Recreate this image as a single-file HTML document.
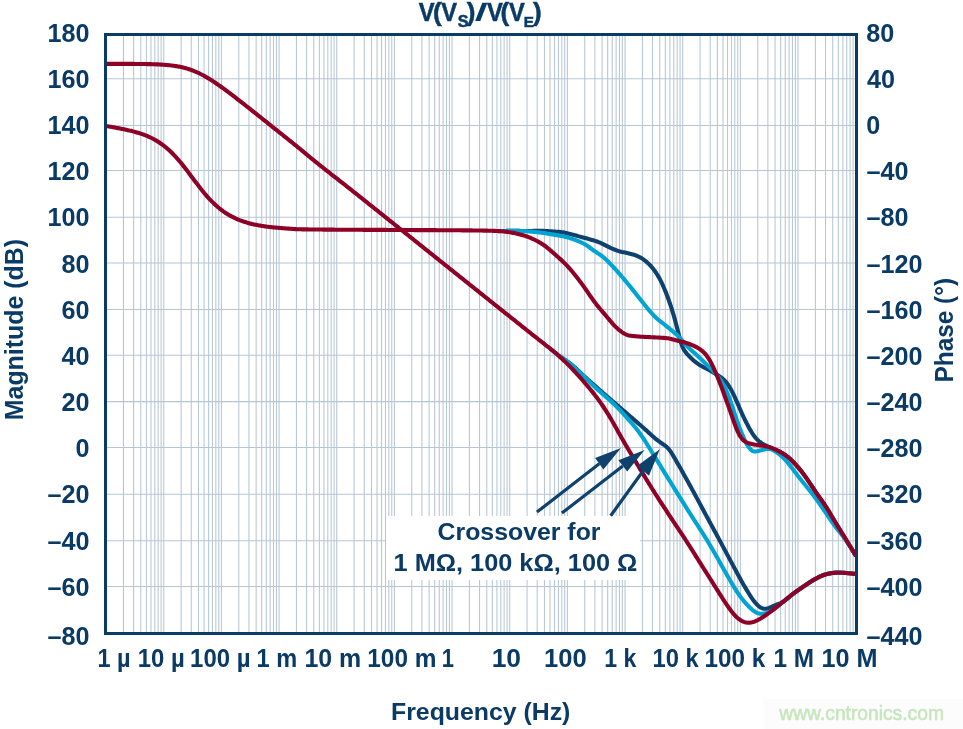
<!DOCTYPE html>
<html><head><meta charset="utf-8"><style>html,body{margin:0;padding:0;background:#fff;overflow:hidden}svg{display:block;will-change:transform}</style></head>
<body><svg width="963" height="729" viewBox="0 0 963 729">
<rect x="0" y="0" width="963" height="729" fill="#fff"/>
<rect x="763" y="699" width="200" height="30" fill="#fcfcfc"/>
<g stroke="#b6c6d4" stroke-width="1.05"><line x1="106.10" y1="34" x2="106.10" y2="634"/><line x1="123.46" y1="34" x2="123.46" y2="634"/><line x1="133.61" y1="34" x2="133.61" y2="634"/><line x1="140.81" y1="34" x2="140.81" y2="634"/><line x1="146.40" y1="34" x2="146.40" y2="634"/><line x1="150.97" y1="34" x2="150.97" y2="634"/><line x1="154.83" y1="34" x2="154.83" y2="634"/><line x1="158.17" y1="34" x2="158.17" y2="634"/><line x1="161.12" y1="34" x2="161.12" y2="634"/><line x1="163.76" y1="34" x2="163.76" y2="634"/><line x1="181.12" y1="34" x2="181.12" y2="634"/><line x1="191.27" y1="34" x2="191.27" y2="634"/><line x1="198.47" y1="34" x2="198.47" y2="634"/><line x1="204.06" y1="34" x2="204.06" y2="634"/><line x1="208.63" y1="34" x2="208.63" y2="634"/><line x1="212.49" y1="34" x2="212.49" y2="634"/><line x1="215.83" y1="34" x2="215.83" y2="634"/><line x1="218.78" y1="34" x2="218.78" y2="634"/><line x1="221.42" y1="34" x2="221.42" y2="634"/><line x1="238.78" y1="34" x2="238.78" y2="634"/><line x1="248.93" y1="34" x2="248.93" y2="634"/><line x1="256.13" y1="34" x2="256.13" y2="634"/><line x1="261.72" y1="34" x2="261.72" y2="634"/><line x1="266.29" y1="34" x2="266.29" y2="634"/><line x1="270.15" y1="34" x2="270.15" y2="634"/><line x1="273.49" y1="34" x2="273.49" y2="634"/><line x1="276.44" y1="34" x2="276.44" y2="634"/><line x1="279.08" y1="34" x2="279.08" y2="634"/><line x1="296.44" y1="34" x2="296.44" y2="634"/><line x1="306.59" y1="34" x2="306.59" y2="634"/><line x1="313.79" y1="34" x2="313.79" y2="634"/><line x1="319.38" y1="34" x2="319.38" y2="634"/><line x1="323.95" y1="34" x2="323.95" y2="634"/><line x1="327.81" y1="34" x2="327.81" y2="634"/><line x1="331.15" y1="34" x2="331.15" y2="634"/><line x1="334.10" y1="34" x2="334.10" y2="634"/><line x1="336.74" y1="34" x2="336.74" y2="634"/><line x1="354.10" y1="34" x2="354.10" y2="634"/><line x1="364.25" y1="34" x2="364.25" y2="634"/><line x1="371.45" y1="34" x2="371.45" y2="634"/><line x1="377.04" y1="34" x2="377.04" y2="634"/><line x1="381.61" y1="34" x2="381.61" y2="634"/><line x1="385.47" y1="34" x2="385.47" y2="634"/><line x1="388.81" y1="34" x2="388.81" y2="634"/><line x1="391.76" y1="34" x2="391.76" y2="634"/><line x1="394.40" y1="34" x2="394.40" y2="634"/><line x1="411.76" y1="34" x2="411.76" y2="634"/><line x1="421.91" y1="34" x2="421.91" y2="634"/><line x1="429.11" y1="34" x2="429.11" y2="634"/><line x1="434.70" y1="34" x2="434.70" y2="634"/><line x1="439.27" y1="34" x2="439.27" y2="634"/><line x1="443.13" y1="34" x2="443.13" y2="634"/><line x1="446.47" y1="34" x2="446.47" y2="634"/><line x1="449.42" y1="34" x2="449.42" y2="634"/><line x1="452.06" y1="34" x2="452.06" y2="634"/><line x1="469.42" y1="34" x2="469.42" y2="634"/><line x1="479.57" y1="34" x2="479.57" y2="634"/><line x1="486.77" y1="34" x2="486.77" y2="634"/><line x1="492.36" y1="34" x2="492.36" y2="634"/><line x1="496.93" y1="34" x2="496.93" y2="634"/><line x1="500.79" y1="34" x2="500.79" y2="634"/><line x1="504.13" y1="34" x2="504.13" y2="634"/><line x1="507.08" y1="34" x2="507.08" y2="634"/><line x1="509.72" y1="34" x2="509.72" y2="634"/><line x1="527.08" y1="34" x2="527.08" y2="634"/><line x1="537.23" y1="34" x2="537.23" y2="634"/><line x1="544.43" y1="34" x2="544.43" y2="634"/><line x1="550.02" y1="34" x2="550.02" y2="634"/><line x1="554.59" y1="34" x2="554.59" y2="634"/><line x1="558.45" y1="34" x2="558.45" y2="634"/><line x1="561.79" y1="34" x2="561.79" y2="634"/><line x1="564.74" y1="34" x2="564.74" y2="634"/><line x1="567.38" y1="34" x2="567.38" y2="634"/><line x1="584.74" y1="34" x2="584.74" y2="634"/><line x1="594.89" y1="34" x2="594.89" y2="634"/><line x1="602.09" y1="34" x2="602.09" y2="634"/><line x1="607.68" y1="34" x2="607.68" y2="634"/><line x1="612.25" y1="34" x2="612.25" y2="634"/><line x1="616.11" y1="34" x2="616.11" y2="634"/><line x1="619.45" y1="34" x2="619.45" y2="634"/><line x1="622.40" y1="34" x2="622.40" y2="634"/><line x1="625.04" y1="34" x2="625.04" y2="634"/><line x1="642.40" y1="34" x2="642.40" y2="634"/><line x1="652.55" y1="34" x2="652.55" y2="634"/><line x1="659.75" y1="34" x2="659.75" y2="634"/><line x1="665.34" y1="34" x2="665.34" y2="634"/><line x1="669.91" y1="34" x2="669.91" y2="634"/><line x1="673.77" y1="34" x2="673.77" y2="634"/><line x1="677.11" y1="34" x2="677.11" y2="634"/><line x1="680.06" y1="34" x2="680.06" y2="634"/><line x1="682.70" y1="34" x2="682.70" y2="634"/><line x1="700.06" y1="34" x2="700.06" y2="634"/><line x1="710.21" y1="34" x2="710.21" y2="634"/><line x1="717.41" y1="34" x2="717.41" y2="634"/><line x1="723.00" y1="34" x2="723.00" y2="634"/><line x1="727.57" y1="34" x2="727.57" y2="634"/><line x1="731.43" y1="34" x2="731.43" y2="634"/><line x1="734.77" y1="34" x2="734.77" y2="634"/><line x1="737.72" y1="34" x2="737.72" y2="634"/><line x1="740.36" y1="34" x2="740.36" y2="634"/><line x1="757.72" y1="34" x2="757.72" y2="634"/><line x1="767.87" y1="34" x2="767.87" y2="634"/><line x1="775.07" y1="34" x2="775.07" y2="634"/><line x1="780.66" y1="34" x2="780.66" y2="634"/><line x1="785.23" y1="34" x2="785.23" y2="634"/><line x1="789.09" y1="34" x2="789.09" y2="634"/><line x1="792.43" y1="34" x2="792.43" y2="634"/><line x1="795.38" y1="34" x2="795.38" y2="634"/><line x1="798.02" y1="34" x2="798.02" y2="634"/><line x1="815.38" y1="34" x2="815.38" y2="634"/><line x1="825.53" y1="34" x2="825.53" y2="634"/><line x1="832.73" y1="34" x2="832.73" y2="634"/><line x1="838.32" y1="34" x2="838.32" y2="634"/><line x1="842.89" y1="34" x2="842.89" y2="634"/><line x1="846.75" y1="34" x2="846.75" y2="634"/><line x1="850.09" y1="34" x2="850.09" y2="634"/><line x1="853.04" y1="34" x2="853.04" y2="634"/><line x1="105" y1="586.45" x2="857" y2="586.45"/><line x1="105" y1="540.75" x2="857" y2="540.75"/><line x1="105" y1="494.30" x2="857" y2="494.30"/><line x1="105" y1="447.40" x2="857" y2="447.40"/><line x1="105" y1="401.60" x2="857" y2="401.60"/><line x1="105" y1="355.30" x2="857" y2="355.30"/><line x1="105" y1="309.40" x2="857" y2="309.40"/><line x1="105" y1="263.00" x2="857" y2="263.00"/><line x1="105" y1="217.25" x2="857" y2="217.25"/><line x1="105" y1="170.40" x2="857" y2="170.40"/><line x1="105" y1="125.45" x2="857" y2="125.45"/><line x1="105" y1="78.70" x2="857" y2="78.70"/></g>
<rect x="386" y="516" width="254" height="64" fill="#fff"/>
<path d="M560.00,356.43 L561.00,357.14 L562.00,357.84 L563.00,358.52 L564.00,359.19 L565.00,359.86 L566.00,360.53 L567.00,361.22 L568.00,361.92 L569.00,362.65 L570.00,363.41 L571.00,364.20 L572.00,365.01 L573.00,365.86 L574.00,366.73 L575.00,367.63 L576.00,368.54 L577.00,369.47 L578.00,370.41 L579.00,371.35 L580.00,372.30 L581.00,373.25 L582.00,374.19 L583.00,375.13 L584.00,376.05 L585.00,376.97 L586.00,377.88 L587.00,378.78 L588.00,379.68 L589.00,380.58 L590.00,381.47 L591.00,382.36 L592.00,383.25 L593.00,384.13 L594.00,385.02 L595.00,385.90 L596.00,386.78 L597.00,387.66 L598.00,388.54 L599.00,389.42 L600.00,390.30 L601.00,391.17 L602.00,392.04 L603.00,392.92 L604.00,393.79 L605.00,394.65 L606.00,395.52 L607.00,396.39 L608.00,397.25 L609.00,398.12 L610.00,398.98 L611.00,399.85 L612.00,400.71 L613.00,401.57 L614.00,402.44 L615.00,403.30 L616.00,404.16 L617.00,405.02 L618.00,405.88 L619.00,406.74 L620.00,407.60 L621.00,408.46 L622.00,409.32 L623.00,410.18 L624.00,411.04 L625.00,411.90 L626.00,412.76 L627.00,413.62 L628.00,414.48 L629.00,415.34 L630.00,416.20 L631.00,417.06 L632.00,417.92 L633.00,418.78 L634.00,419.64 L635.00,420.50 L636.00,421.36 L637.00,422.23 L638.00,423.09 L639.00,423.95 L640.00,424.82 L641.00,425.69 L642.00,426.57 L643.00,427.45 L644.00,428.34 L645.00,429.23 L646.00,430.13 L647.00,431.04 L648.00,431.96 L649.00,432.88 L650.00,433.80 L651.00,434.71 L652.00,435.62 L653.00,436.51 L654.00,437.38 L655.00,438.23 L656.00,439.07 L657.00,439.88 L658.00,440.67 L659.00,441.43 L660.00,442.17 L661.00,442.88 L662.00,443.56 L663.00,444.23 L664.00,444.90 L665.00,445.61 L666.00,446.38 L667.00,447.26 L668.00,448.26 L669.00,449.41 L670.00,450.71 L671.00,452.16 L672.00,453.73 L673.00,455.39 L674.00,457.11 L675.00,458.85 L676.00,460.61 L677.00,462.36 L678.00,464.11 L679.00,465.85 L680.00,467.60 L681.00,469.35 L682.00,471.11 L683.00,472.88 L684.00,474.66 L685.00,476.45 L686.00,478.24 L687.00,480.04 L688.00,481.85 L689.00,483.67 L690.00,485.49 L691.00,487.32 L692.00,489.15 L693.00,490.99 L694.00,492.83 L695.00,494.68 L696.00,496.53 L697.00,498.38 L698.00,500.24 L699.00,502.10 L700.00,503.96 L701.00,505.82 L702.00,507.69 L703.00,509.55 L704.00,511.41 L705.00,513.28 L706.00,515.13 L707.00,516.99 L708.00,518.84 L709.00,520.69 L710.00,522.53 L711.00,524.38 L712.00,526.22 L713.00,528.06 L714.00,529.90 L715.00,531.75 L716.00,533.59 L717.00,535.44 L718.00,537.29 L719.00,539.14 L720.00,541.01 L721.00,542.87 L722.00,544.74 L723.00,546.62 L724.00,548.49 L725.00,550.38 L726.00,552.26 L727.00,554.14 L728.00,556.02 L729.00,557.89 L730.00,559.76 L731.00,561.63 L732.00,563.50 L733.00,565.37 L734.00,567.24 L735.00,569.10 L736.00,570.97 L737.00,572.83 L738.00,574.68 L739.00,576.52 L740.00,578.34 L741.00,580.15 L742.00,581.93 L743.00,583.68 L744.00,585.42 L745.00,587.14 L746.00,588.84 L747.00,590.52 L748.00,592.17 L749.00,593.80 L750.00,595.39 L751.00,596.92 L752.00,598.40 L753.00,599.80 L754.00,601.12 L755.00,602.36 L756.00,603.52 L757.00,604.58 L758.00,605.55 L759.00,606.40 L760.00,607.15 L761.00,607.76 L762.00,608.24 L763.00,608.57 L764.00,608.74 L765.00,608.78 L766.00,608.68 L767.00,608.48 L768.00,608.21 L769.00,607.88 L770.00,607.49 L771.00,607.08 L772.00,606.63 L773.00,606.17 L774.00,605.71 L775.00,605.27 L776.00,604.84 L777.00,604.44 L778.00,604.06 L779.00,603.69 L780.00,603.31 L781.00,602.90 L782.00,602.43 L783.00,601.89 L784.00,601.27 L785.00,600.58 L786.00,599.82 L787.00,599.01 L788.00,598.16 L789.00,597.29 L790.00,596.42 L791.00,595.57 L792.00,594.74 L793.00,593.93 L794.00,593.16 L795.00,592.40 L796.00,591.67 L797.00,590.95 L798.00,590.25 L799.00,589.55 L800.00,588.86 L801.00,588.17 L802.00,587.49 L803.00,586.81 L804.00,586.13 L805.00,585.45 L806.00,584.77 L807.00,584.10 L808.00,583.43 L809.00,582.76 L810.00,582.11 L811.00,581.47 L812.00,580.85 L813.00,580.24 L814.00,579.66 L815.00,579.09 L816.00,578.53 L817.00,577.99 L818.00,577.46 L819.00,576.94 L820.00,576.45 L821.00,575.98 L822.00,575.55 L823.00,575.15 L824.00,574.78 L825.00,574.46 L826.00,574.18 L827.00,573.92 L828.00,573.69 L829.00,573.48 L830.00,573.29 L831.00,573.12 L832.00,572.97 L833.00,572.84 L834.00,572.73 L835.00,572.65 L836.00,572.60 L837.00,572.57 L838.00,572.57 L839.00,572.58 L840.00,572.61 L841.00,572.65 L842.00,572.70 L843.00,572.76 L844.00,572.83 L845.00,572.90 L846.00,572.97 L847.00,573.05 L848.00,573.13 L849.00,573.22 L850.00,573.31 L851.00,573.41 L852.00,573.52 L853.00,573.64 L854.00,573.75 L855.00,573.88 L856.00,574.00" fill="none" stroke="#0f416e" stroke-width="4.10" stroke-linecap="butt" stroke-linejoin="round"/><path d="M500.00,231.08 L501.00,231.07 L502.00,231.05 L503.00,231.03 L504.00,231.00 L505.00,230.97 L506.00,230.93 L507.00,230.89 L508.00,230.86 L509.00,230.82 L510.00,230.79 L511.00,230.77 L512.00,230.75 L513.00,230.74 L514.00,230.74 L515.00,230.76 L516.00,230.79 L517.00,230.82 L518.00,230.86 L519.00,230.91 L520.00,230.95 L521.00,230.99 L522.00,231.03 L523.00,231.05 L524.00,231.06 L525.00,231.07 L526.00,231.07 L527.00,231.06 L528.00,231.04 L529.00,231.02 L530.00,231.00 L531.00,230.98 L532.00,230.95 L533.00,230.92 L534.00,230.90 L535.00,230.88 L536.00,230.86 L537.00,230.84 L538.00,230.83 L539.00,230.82 L540.00,230.83 L541.00,230.84 L542.00,230.85 L543.00,230.88 L544.00,230.91 L545.00,230.95 L546.00,231.00 L547.00,231.06 L548.00,231.12 L549.00,231.18 L550.00,231.25 L551.00,231.32 L552.00,231.39 L553.00,231.46 L554.00,231.53 L555.00,231.60 L556.00,231.67 L557.00,231.74 L558.00,231.82 L559.00,231.90 L560.00,231.99 L561.00,232.09 L562.00,232.21 L563.00,232.35 L564.00,232.51 L565.00,232.70 L566.00,232.92 L567.00,233.17 L568.00,233.43 L569.00,233.70 L570.00,233.97 L571.00,234.25 L572.00,234.52 L573.00,234.79 L574.00,235.05 L575.00,235.32 L576.00,235.58 L577.00,235.84 L578.00,236.11 L579.00,236.37 L580.00,236.64 L581.00,236.91 L582.00,237.18 L583.00,237.46 L584.00,237.73 L585.00,238.01 L586.00,238.29 L587.00,238.56 L588.00,238.84 L589.00,239.12 L590.00,239.40 L591.00,239.68 L592.00,239.97 L593.00,240.26 L594.00,240.56 L595.00,240.88 L596.00,241.21 L597.00,241.55 L598.00,241.91 L599.00,242.30 L600.00,242.72 L601.00,243.16 L602.00,243.64 L603.00,244.13 L604.00,244.65 L605.00,245.17 L606.00,245.69 L607.00,246.20 L608.00,246.69 L609.00,247.18 L610.00,247.65 L611.00,248.10 L612.00,248.54 L613.00,248.97 L614.00,249.38 L615.00,249.77 L616.00,250.15 L617.00,250.51 L618.00,250.84 L619.00,251.16 L620.00,251.44 L621.00,251.70 L622.00,251.94 L623.00,252.15 L624.00,252.36 L625.00,252.56 L626.00,252.75 L627.00,252.96 L628.00,253.17 L629.00,253.40 L630.00,253.64 L631.00,253.90 L632.00,254.17 L633.00,254.47 L634.00,254.78 L635.00,255.12 L636.00,255.49 L637.00,255.89 L638.00,256.32 L639.00,256.79 L640.00,257.30 L641.00,257.85 L642.00,258.45 L643.00,259.10 L644.00,259.81 L645.00,260.57 L646.00,261.38 L647.00,262.25 L648.00,263.17 L649.00,264.14 L650.00,265.17 L651.00,266.26 L652.00,267.42 L653.00,268.63 L654.00,269.92 L655.00,271.28 L656.00,272.72 L657.00,274.25 L658.00,275.87 L659.00,277.60 L660.00,279.44 L661.00,281.40 L662.00,283.47 L663.00,285.66 L664.00,287.96 L665.00,290.35 L666.00,292.84 L667.00,295.42 L668.00,298.08 L669.00,300.84 L670.00,303.71 L671.00,306.69 L672.00,309.79 L673.00,313.02 L674.00,316.40 L675.00,319.94 L676.00,323.67 L677.00,327.55 L678.00,331.55 L679.00,335.54 L680.00,339.32 L681.00,342.71 L682.00,345.59 L683.00,347.94 L684.00,349.82 L685.00,351.35 L686.00,352.66 L687.00,353.84 L688.00,354.95 L689.00,356.02 L690.00,357.06 L691.00,358.06 L692.00,359.02 L693.00,359.93 L694.00,360.81 L695.00,361.63 L696.00,362.42 L697.00,363.16 L698.00,363.87 L699.00,364.54 L700.00,365.17 L701.00,365.77 L702.00,366.34 L703.00,366.89 L704.00,367.41 L705.00,367.92 L706.00,368.43 L707.00,368.95 L708.00,369.48 L709.00,370.02 L710.00,370.59 L711.00,371.16 L712.00,371.75 L713.00,372.34 L714.00,372.93 L715.00,373.52 L716.00,374.11 L717.00,374.70 L718.00,375.30 L719.00,375.93 L720.00,376.59 L721.00,377.32 L722.00,378.11 L723.00,378.98 L724.00,379.94 L725.00,380.99 L726.00,382.14 L727.00,383.39 L728.00,384.75 L729.00,386.23 L730.00,387.84 L731.00,389.57 L732.00,391.42 L733.00,393.38 L734.00,395.43 L735.00,397.58 L736.00,399.79 L737.00,402.08 L738.00,404.40 L739.00,406.75 L740.00,409.09 L741.00,411.40 L742.00,413.65 L743.00,415.84 L744.00,417.96 L745.00,420.01 L746.00,422.00 L747.00,423.93 L748.00,425.81 L749.00,427.65 L750.00,429.42 L751.00,431.15 L752.00,432.79 L753.00,434.35 L754.00,435.79 L755.00,437.11 L756.00,438.31 L757.00,439.39 L758.00,440.36 L759.00,441.24 L760.00,442.03 L761.00,442.76 L762.00,443.43 L763.00,444.04 L764.00,444.61 L765.00,445.14 L766.00,445.63 L767.00,446.10 L768.00,446.55 L769.00,446.97 L770.00,447.39 L771.00,447.79 L772.00,448.20 L773.00,448.61 L774.00,449.03 L775.00,449.46 L776.00,449.91 L777.00,450.37 L778.00,450.86 L779.00,451.36 L780.00,451.87 L781.00,452.41 L782.00,452.98 L783.00,453.57 L784.00,454.19 L785.00,454.85 L786.00,455.55 L787.00,456.29 L788.00,457.08 L789.00,457.92 L790.00,458.80 L791.00,459.73 L792.00,460.70 L793.00,461.70 L794.00,462.74 L795.00,463.80 L796.00,464.89 L797.00,466.01 L798.00,467.16 L799.00,468.34 L800.00,469.56 L801.00,470.81 L802.00,472.09 L803.00,473.40 L804.00,474.74 L805.00,476.10 L806.00,477.49 L807.00,478.91 L808.00,480.35 L809.00,481.81 L810.00,483.31 L811.00,484.83 L812.00,486.37 L813.00,487.92 L814.00,489.47 L815.00,490.99 L816.00,492.49 L817.00,493.96 L818.00,495.39 L819.00,496.80 L820.00,498.18 L821.00,499.55 L822.00,500.94 L823.00,502.35 L824.00,503.79 L825.00,505.28 L826.00,506.82 L827.00,508.40 L828.00,510.02 L829.00,511.67 L830.00,513.35 L831.00,515.03 L832.00,516.72 L833.00,518.41 L834.00,520.08 L835.00,521.75 L836.00,523.40 L837.00,525.04 L838.00,526.67 L839.00,528.29 L840.00,529.91 L841.00,531.53 L842.00,533.15 L843.00,534.77 L844.00,536.39 L845.00,538.01 L846.00,539.64 L847.00,541.27 L848.00,542.90 L849.00,544.53 L850.00,546.16 L851.00,547.80 L852.00,549.44 L853.00,551.08 L854.00,552.72 L855.00,554.36 L856.00,556.00" fill="none" stroke="#0f416e" stroke-width="4.10" stroke-linecap="butt" stroke-linejoin="round"/><path d="M550.00,348.59 L551.00,349.40 L552.00,350.20 L553.00,351.00 L554.00,351.79 L555.00,352.58 L556.00,353.36 L557.00,354.13 L558.00,354.89 L559.00,355.64 L560.00,356.38 L561.00,357.11 L562.00,357.83 L563.00,358.55 L564.00,359.26 L565.00,359.98 L566.00,360.70 L567.00,361.43 L568.00,362.18 L569.00,362.94 L570.00,363.73 L571.00,364.53 L572.00,365.36 L573.00,366.22 L574.00,367.09 L575.00,367.99 L576.00,368.90 L577.00,369.83 L578.00,370.76 L579.00,371.71 L580.00,372.67 L581.00,373.63 L582.00,374.60 L583.00,375.56 L584.00,376.53 L585.00,377.50 L586.00,378.47 L587.00,379.44 L588.00,380.40 L589.00,381.37 L590.00,382.34 L591.00,383.31 L592.00,384.27 L593.00,385.22 L594.00,386.17 L595.00,387.12 L596.00,388.05 L597.00,388.97 L598.00,389.88 L599.00,390.78 L600.00,391.66 L601.00,392.54 L602.00,393.40 L603.00,394.27 L604.00,395.12 L605.00,395.98 L606.00,396.84 L607.00,397.71 L608.00,398.58 L609.00,399.47 L610.00,400.37 L611.00,401.28 L612.00,402.21 L613.00,403.16 L614.00,404.12 L615.00,405.09 L616.00,406.08 L617.00,407.09 L618.00,408.11 L619.00,409.14 L620.00,410.18 L621.00,411.24 L622.00,412.30 L623.00,413.38 L624.00,414.46 L625.00,415.56 L626.00,416.66 L627.00,417.77 L628.00,418.89 L629.00,420.01 L630.00,421.15 L631.00,422.30 L632.00,423.47 L633.00,424.65 L634.00,425.84 L635.00,427.06 L636.00,428.30 L637.00,429.57 L638.00,430.87 L639.00,432.20 L640.00,433.56 L641.00,434.97 L642.00,436.41 L643.00,437.89 L644.00,439.40 L645.00,440.95 L646.00,442.52 L647.00,444.12 L648.00,445.73 L649.00,447.34 L650.00,448.97 L651.00,450.59 L652.00,452.21 L653.00,453.83 L654.00,455.45 L655.00,457.07 L656.00,458.69 L657.00,460.31 L658.00,461.93 L659.00,463.55 L660.00,465.17 L661.00,466.80 L662.00,468.43 L663.00,470.06 L664.00,471.68 L665.00,473.31 L666.00,474.94 L667.00,476.57 L668.00,478.19 L669.00,479.81 L670.00,481.43 L671.00,483.04 L672.00,484.66 L673.00,486.27 L674.00,487.88 L675.00,489.48 L676.00,491.09 L677.00,492.70 L678.00,494.30 L679.00,495.91 L680.00,497.51 L681.00,499.12 L682.00,500.72 L683.00,502.33 L684.00,503.93 L685.00,505.53 L686.00,507.13 L687.00,508.73 L688.00,510.32 L689.00,511.91 L690.00,513.50 L691.00,515.08 L692.00,516.65 L693.00,518.22 L694.00,519.78 L695.00,521.33 L696.00,522.88 L697.00,524.42 L698.00,525.97 L699.00,527.51 L700.00,529.06 L701.00,530.61 L702.00,532.17 L703.00,533.73 L704.00,535.32 L705.00,536.91 L706.00,538.52 L707.00,540.15 L708.00,541.80 L709.00,543.47 L710.00,545.16 L711.00,546.86 L712.00,548.57 L713.00,550.31 L714.00,552.05 L715.00,553.80 L716.00,555.56 L717.00,557.32 L718.00,559.09 L719.00,560.86 L720.00,562.63 L721.00,564.40 L722.00,566.18 L723.00,567.95 L724.00,569.72 L725.00,571.50 L726.00,573.26 L727.00,575.03 L728.00,576.78 L729.00,578.52 L730.00,580.25 L731.00,581.97 L732.00,583.66 L733.00,585.34 L734.00,586.98 L735.00,588.61 L736.00,590.19 L737.00,591.74 L738.00,593.25 L739.00,594.72 L740.00,596.13 L741.00,597.49 L742.00,598.80 L743.00,600.06 L744.00,601.27 L745.00,602.44 L746.00,603.57 L747.00,604.65 L748.00,605.70 L749.00,606.71 L750.00,607.68 L751.00,608.61 L752.00,609.49 L753.00,610.30 L754.00,611.05 L755.00,611.73 L756.00,612.31 L757.00,612.80 L758.00,613.18 L759.00,613.46 L760.00,613.64 L761.00,613.72 L762.00,613.72 L763.00,613.64 L764.00,613.49 L765.00,613.28 L766.00,613.02 L767.00,612.71 L768.00,612.36 L769.00,611.96 L770.00,611.50 L771.00,611.00 L772.00,610.45 L773.00,609.84 L774.00,609.18 L775.00,608.47 L776.00,607.72 L777.00,606.94 L778.00,606.13 L779.00,605.30 L780.00,604.47 L781.00,603.62 L782.00,602.78 L783.00,601.94 L784.00,601.11 L785.00,600.28 L786.00,599.46 L787.00,598.64 L788.00,597.83 L789.00,597.03 L790.00,596.24 L791.00,595.46 L792.00,594.69 L793.00,593.93 L794.00,593.18 L795.00,592.44 L796.00,591.71 L797.00,590.99 L798.00,590.28 L799.00,589.58 L800.00,588.88 L801.00,588.19 L802.00,587.50 L803.00,586.82 L804.00,586.14 L805.00,585.46 L806.00,584.79 L807.00,584.12 L808.00,583.46 L809.00,582.81 L810.00,582.17 L811.00,581.54 L812.00,580.92 L813.00,580.32 L814.00,579.73 L815.00,579.16 L816.00,578.61 L817.00,578.07 L818.00,577.55 L819.00,577.05 L820.00,576.58 L821.00,576.13 L822.00,575.70 L823.00,575.31 L824.00,574.95 L825.00,574.62 L826.00,574.32 L827.00,574.05 L828.00,573.81 L829.00,573.59 L830.00,573.39 L831.00,573.22 L832.00,573.08 L833.00,572.95 L834.00,572.85 L835.00,572.77 L836.00,572.71 L837.00,572.67 L838.00,572.66 L839.00,572.66 L840.00,572.67 L841.00,572.70 L842.00,572.75 L843.00,572.80 L844.00,572.86 L845.00,572.92 L846.00,573.00 L847.00,573.07 L848.00,573.16 L849.00,573.25 L850.00,573.34 L851.00,573.44 L852.00,573.55 L853.00,573.66 L854.00,573.77 L855.00,573.89 L856.00,574.01" fill="none" stroke="#00a4d2" stroke-width="4.10" stroke-linecap="butt" stroke-linejoin="round"/><path d="M495.00,231.05 L496.00,231.06 L497.00,231.07 L498.00,231.08 L499.00,231.08 L500.00,231.08 L501.00,231.07 L502.00,231.05 L503.00,231.03 L504.00,231.00 L505.00,230.97 L506.00,230.93 L507.00,230.89 L508.00,230.86 L509.00,230.82 L510.00,230.79 L511.00,230.76 L512.00,230.75 L513.00,230.73 L514.00,230.73 L515.00,230.74 L516.00,230.76 L517.00,230.78 L518.00,230.82 L519.00,230.85 L520.00,230.90 L521.00,230.95 L522.00,231.00 L523.00,231.05 L524.00,231.11 L525.00,231.17 L526.00,231.23 L527.00,231.30 L528.00,231.37 L529.00,231.44 L530.00,231.52 L531.00,231.60 L532.00,231.69 L533.00,231.78 L534.00,231.88 L535.00,231.97 L536.00,232.07 L537.00,232.18 L538.00,232.29 L539.00,232.40 L540.00,232.52 L541.00,232.64 L542.00,232.78 L543.00,232.91 L544.00,233.06 L545.00,233.21 L546.00,233.37 L547.00,233.53 L548.00,233.70 L549.00,233.87 L550.00,234.04 L551.00,234.21 L552.00,234.39 L553.00,234.55 L554.00,234.72 L555.00,234.89 L556.00,235.05 L557.00,235.21 L558.00,235.37 L559.00,235.53 L560.00,235.70 L561.00,235.87 L562.00,236.05 L563.00,236.25 L564.00,236.47 L565.00,236.70 L566.00,236.95 L567.00,237.22 L568.00,237.51 L569.00,237.81 L570.00,238.13 L571.00,238.45 L572.00,238.79 L573.00,239.13 L574.00,239.49 L575.00,239.85 L576.00,240.22 L577.00,240.61 L578.00,241.01 L579.00,241.43 L580.00,241.86 L581.00,242.31 L582.00,242.78 L583.00,243.28 L584.00,243.80 L585.00,244.37 L586.00,244.97 L587.00,245.62 L588.00,246.30 L589.00,247.02 L590.00,247.75 L591.00,248.51 L592.00,249.26 L593.00,250.00 L594.00,250.72 L595.00,251.41 L596.00,252.07 L597.00,252.72 L598.00,253.36 L599.00,254.00 L600.00,254.68 L601.00,255.39 L602.00,256.14 L603.00,256.95 L604.00,257.80 L605.00,258.69 L606.00,259.61 L607.00,260.57 L608.00,261.55 L609.00,262.55 L610.00,263.57 L611.00,264.60 L612.00,265.64 L613.00,266.69 L614.00,267.75 L615.00,268.83 L616.00,269.91 L617.00,271.02 L618.00,272.14 L619.00,273.27 L620.00,274.42 L621.00,275.59 L622.00,276.76 L623.00,277.94 L624.00,279.13 L625.00,280.33 L626.00,281.53 L627.00,282.74 L628.00,283.95 L629.00,285.17 L630.00,286.40 L631.00,287.64 L632.00,288.88 L633.00,290.13 L634.00,291.39 L635.00,292.65 L636.00,293.90 L637.00,295.16 L638.00,296.41 L639.00,297.67 L640.00,298.91 L641.00,300.16 L642.00,301.41 L643.00,302.66 L644.00,303.92 L645.00,305.18 L646.00,306.44 L647.00,307.69 L648.00,308.92 L649.00,310.14 L650.00,311.34 L651.00,312.50 L652.00,313.63 L653.00,314.71 L654.00,315.75 L655.00,316.74 L656.00,317.69 L657.00,318.60 L658.00,319.46 L659.00,320.30 L660.00,321.11 L661.00,321.90 L662.00,322.68 L663.00,323.45 L664.00,324.21 L665.00,324.98 L666.00,325.76 L667.00,326.55 L668.00,327.35 L669.00,328.15 L670.00,328.97 L671.00,329.79 L672.00,330.63 L673.00,331.47 L674.00,332.32 L675.00,333.19 L676.00,334.08 L677.00,335.01 L678.00,335.97 L679.00,336.97 L680.00,338.03 L681.00,339.13 L682.00,340.28 L683.00,341.45 L684.00,342.64 L685.00,343.81 L686.00,344.96 L687.00,346.06 L688.00,347.11 L689.00,348.10 L690.00,349.06 L691.00,349.98 L692.00,350.88 L693.00,351.77 L694.00,352.65 L695.00,353.53 L696.00,354.42 L697.00,355.31 L698.00,356.21 L699.00,357.12 L700.00,358.04 L701.00,358.99 L702.00,359.95 L703.00,360.93 L704.00,361.93 L705.00,362.93 L706.00,363.94 L707.00,364.95 L708.00,365.94 L709.00,366.93 L710.00,367.91 L711.00,368.90 L712.00,369.90 L713.00,370.92 L714.00,371.98 L715.00,373.07 L716.00,374.22 L717.00,375.42 L718.00,376.69 L719.00,378.02 L720.00,379.43 L721.00,380.92 L722.00,382.51 L723.00,384.20 L724.00,386.01 L725.00,387.93 L726.00,389.99 L727.00,392.18 L728.00,394.53 L729.00,397.05 L730.00,399.74 L731.00,402.58 L732.00,405.55 L733.00,408.59 L734.00,411.66 L735.00,414.70 L736.00,417.68 L737.00,420.58 L738.00,423.38 L739.00,426.09 L740.00,428.72 L741.00,431.26 L742.00,433.72 L743.00,436.09 L744.00,438.37 L745.00,440.54 L746.00,442.57 L747.00,444.44 L748.00,446.11 L749.00,447.57 L750.00,448.81 L751.00,449.81 L752.00,450.58 L753.00,451.10 L754.00,451.40 L755.00,451.50 L756.00,451.44 L757.00,451.27 L758.00,451.04 L759.00,450.77 L760.00,450.49 L761.00,450.22 L762.00,449.97 L763.00,449.74 L764.00,449.52 L765.00,449.33 L766.00,449.17 L767.00,449.05 L768.00,449.00 L769.00,449.02 L770.00,449.13 L771.00,449.35 L772.00,449.67 L773.00,450.10 L774.00,450.63 L775.00,451.22 L776.00,451.88 L777.00,452.58 L778.00,453.32 L779.00,454.08 L780.00,454.88 L781.00,455.71 L782.00,456.58 L783.00,457.51 L784.00,458.48 L785.00,459.50 L786.00,460.57 L787.00,461.70 L788.00,462.87 L789.00,464.10 L790.00,465.37 L791.00,466.68 L792.00,468.00 L793.00,469.35 L794.00,470.69 L795.00,472.03 L796.00,473.35 L797.00,474.66 L798.00,475.95 L799.00,477.22 L800.00,478.48 L801.00,479.74 L802.00,480.98 L803.00,482.23 L804.00,483.47 L805.00,484.70 L806.00,485.94 L807.00,487.18 L808.00,488.42 L809.00,489.66 L810.00,490.91 L811.00,492.17 L812.00,493.45 L813.00,494.75 L814.00,496.08 L815.00,497.43 L816.00,498.80 L817.00,500.19 L818.00,501.59 L819.00,503.01 L820.00,504.44 L821.00,505.88 L822.00,507.33 L823.00,508.78 L824.00,510.25 L825.00,511.71 L826.00,513.19 L827.00,514.67 L828.00,516.16 L829.00,517.64 L830.00,519.11 L831.00,520.56 L832.00,521.98 L833.00,523.38 L834.00,524.75 L835.00,526.08 L836.00,527.39 L837.00,528.68 L838.00,529.95 L839.00,531.22 L840.00,532.49 L841.00,533.77 L842.00,535.06 L843.00,536.38 L844.00,537.73 L845.00,539.11 L846.00,540.52 L847.00,541.96 L848.00,543.43 L849.00,544.93 L850.00,546.45 L851.00,547.99 L852.00,549.56 L853.00,551.15 L854.00,552.76 L855.00,554.37 L856.00,556.00" fill="none" stroke="#00a4d2" stroke-width="4.10" stroke-linecap="butt" stroke-linejoin="round"/><path d="M106.00,63.83 L107.00,63.83 L108.00,63.83 L109.00,63.83 L110.00,63.83 L111.00,63.84 L112.00,63.84 L113.00,63.84 L114.00,63.84 L115.00,63.84 L116.00,63.84 L117.00,63.85 L118.00,63.85 L119.00,63.85 L120.00,63.85 L121.00,63.86 L122.00,63.86 L123.00,63.86 L124.00,63.87 L125.00,63.87 L126.00,63.88 L127.00,63.88 L128.00,63.88 L129.00,63.89 L130.00,63.89 L131.00,63.90 L132.00,63.91 L133.00,63.91 L134.00,63.92 L135.00,63.93 L136.00,63.94 L137.00,63.94 L138.00,63.95 L139.00,63.96 L140.00,63.98 L141.00,63.99 L142.00,64.00 L143.00,64.01 L144.00,64.03 L145.00,64.04 L146.00,64.06 L147.00,64.08 L148.00,64.10 L149.00,64.12 L150.00,64.14 L151.00,64.17 L152.00,64.20 L153.00,64.23 L154.00,64.26 L155.00,64.29 L156.00,64.33 L157.00,64.38 L158.00,64.42 L159.00,64.47 L160.00,64.52 L161.00,64.58 L162.00,64.64 L163.00,64.70 L164.00,64.77 L165.00,64.85 L166.00,64.93 L167.00,65.01 L168.00,65.11 L169.00,65.21 L170.00,65.31 L171.00,65.43 L172.00,65.55 L173.00,65.68 L174.00,65.82 L175.00,65.96 L176.00,66.12 L177.00,66.28 L178.00,66.46 L179.00,66.64 L180.00,66.84 L181.00,67.05 L182.00,67.27 L183.00,67.51 L184.00,67.76 L185.00,68.02 L186.00,68.30 L187.00,68.60 L188.00,68.90 L189.00,69.22 L190.00,69.56 L191.00,69.91 L192.00,70.27 L193.00,70.65 L194.00,71.04 L195.00,71.44 L196.00,71.87 L197.00,72.30 L198.00,72.76 L199.00,73.23 L200.00,73.72 L201.00,74.22 L202.00,74.74 L203.00,75.27 L204.00,75.82 L205.00,76.38 L206.00,76.95 L207.00,77.53 L208.00,78.12 L209.00,78.73 L210.00,79.34 L211.00,79.97 L212.00,80.60 L213.00,81.25 L214.00,81.90 L215.00,82.57 L216.00,83.25 L217.00,83.93 L218.00,84.63 L219.00,85.33 L220.00,86.04 L221.00,86.75 L222.00,87.47 L223.00,88.19 L224.00,88.92 L225.00,89.66 L226.00,90.40 L227.00,91.14 L228.00,91.88 L229.00,92.63 L230.00,93.39 L231.00,94.15 L232.00,94.91 L233.00,95.67 L234.00,96.44 L235.00,97.21 L236.00,97.98 L237.00,98.76 L238.00,99.53 L239.00,100.31 L240.00,101.09 L241.00,101.87 L242.00,102.65 L243.00,103.44 L244.00,104.22 L245.00,105.01 L246.00,105.80 L247.00,106.58 L248.00,107.37 L249.00,108.17 L250.00,108.96 L251.00,109.75 L252.00,110.54 L253.00,111.34 L254.00,112.13 L255.00,112.92 L256.00,113.72 L257.00,114.51 L258.00,115.31 L259.00,116.10 L260.00,116.90 L261.00,117.70 L262.00,118.50 L263.00,119.29 L264.00,120.09 L265.00,120.89 L266.00,121.69 L267.00,122.48 L268.00,123.28 L269.00,124.08 L270.00,124.88 L271.00,125.68 L272.00,126.48 L273.00,127.28 L274.00,128.08 L275.00,128.87 L276.00,129.67 L277.00,130.47 L278.00,131.27 L279.00,132.07 L280.00,132.87 L281.00,133.67 L282.00,134.47 L283.00,135.27 L284.00,136.07 L285.00,136.86 L286.00,137.66 L287.00,138.46 L288.00,139.26 L289.00,140.05 L290.00,140.85 L291.00,141.65 L292.00,142.45 L293.00,143.25 L294.00,144.05 L295.00,144.86 L296.00,145.67 L297.00,146.48 L298.00,147.29 L299.00,148.11 L300.00,148.93 L301.00,149.76 L302.00,150.59 L303.00,151.42 L304.00,152.26 L305.00,153.09 L306.00,153.93 L307.00,154.76 L308.00,155.59 L309.00,156.42 L310.00,157.25 L311.00,158.07 L312.00,158.90 L313.00,159.71 L314.00,160.53 L315.00,161.34 L316.00,162.14 L317.00,162.95 L318.00,163.75 L319.00,164.55 L320.00,165.34 L321.00,166.14 L322.00,166.93 L323.00,167.72 L324.00,168.51 L325.00,169.30 L326.00,170.09 L327.00,170.87 L328.00,171.66 L329.00,172.44 L330.00,173.23 L331.00,174.01 L332.00,174.79 L333.00,175.57 L334.00,176.35 L335.00,177.13 L336.00,177.92 L337.00,178.70 L338.00,179.48 L339.00,180.26 L340.00,181.04 L341.00,181.82 L342.00,182.61 L343.00,183.39 L344.00,184.18 L345.00,184.96 L346.00,185.75 L347.00,186.54 L348.00,187.33 L349.00,188.12 L350.00,188.91 L351.00,189.70 L352.00,190.49 L353.00,191.29 L354.00,192.08 L355.00,192.88 L356.00,193.67 L357.00,194.47 L358.00,195.26 L359.00,196.06 L360.00,196.85 L361.00,197.65 L362.00,198.45 L363.00,199.24 L364.00,200.04 L365.00,200.84 L366.00,201.64 L367.00,202.43 L368.00,203.23 L369.00,204.03 L370.00,204.83 L371.00,205.62 L372.00,206.42 L373.00,207.22 L374.00,208.02 L375.00,208.82 L376.00,209.62 L377.00,210.42 L378.00,211.22 L379.00,212.01 L380.00,212.81 L381.00,213.61 L382.00,214.41 L383.00,215.21 L384.00,216.01 L385.00,216.81 L386.00,217.61 L387.00,218.41 L388.00,219.21 L389.00,220.01 L390.00,220.81 L391.00,221.61 L392.00,222.41 L393.00,223.21 L394.00,224.00 L395.00,224.80 L396.00,225.60 L397.00,226.40 L398.00,227.20 L399.00,228.00 L400.00,228.80 L401.00,229.60 L402.00,230.40 L403.00,231.20 L404.00,232.00 L405.00,232.80 L406.00,233.60 L407.00,234.40 L408.00,235.19 L409.00,235.99 L410.00,236.79 L411.00,237.59 L412.00,238.39 L413.00,239.19 L414.00,239.99 L415.00,240.79 L416.00,241.59 L417.00,242.39 L418.00,243.19 L419.00,243.99 L420.00,244.79 L421.00,245.59 L422.00,246.39 L423.00,247.19 L424.00,247.99 L425.00,248.79 L426.00,249.59 L427.00,250.39 L428.00,251.19 L429.00,251.99 L430.00,252.80 L431.00,253.60 L432.00,254.40 L433.00,255.20 L434.00,256.00 L435.00,256.80 L436.00,257.60 L437.00,258.40 L438.00,259.20 L439.00,260.00 L440.00,260.80 L441.00,261.60 L442.00,262.40 L443.00,263.20 L444.00,264.00 L445.00,264.80 L446.00,265.60 L447.00,266.40 L448.00,267.20 L449.00,268.00 L450.00,268.80 L451.00,269.60 L452.00,270.40 L453.00,271.20 L454.00,272.00 L455.00,272.80 L456.00,273.60 L457.00,274.40 L458.00,275.20 L459.00,276.00 L460.00,276.81 L461.00,277.61 L462.00,278.41 L463.00,279.21 L464.00,280.01 L465.00,280.81 L466.00,281.61 L467.00,282.41 L468.00,283.21 L469.00,284.01 L470.00,284.81 L471.00,285.61 L472.00,286.42 L473.00,287.22 L474.00,288.02 L475.00,288.82 L476.00,289.62 L477.00,290.42 L478.00,291.22 L479.00,292.02 L480.00,292.82 L481.00,293.62 L482.00,294.42 L483.00,295.22 L484.00,296.02 L485.00,296.82 L486.00,297.62 L487.00,298.42 L488.00,299.22 L489.00,300.02 L490.00,300.82 L491.00,301.62 L492.00,302.41 L493.00,303.21 L494.00,304.01 L495.00,304.81 L496.00,305.61 L497.00,306.41 L498.00,307.20 L499.00,308.00 L500.00,308.80 L501.00,309.59 L502.00,310.39 L503.00,311.18 L504.00,311.98 L505.00,312.78 L506.00,313.57 L507.00,314.37 L508.00,315.16 L509.00,315.95 L510.00,316.75 L511.00,317.54 L512.00,318.34 L513.00,319.13 L514.00,319.93 L515.00,320.72 L516.00,321.52 L517.00,322.32 L518.00,323.11 L519.00,323.91 L520.00,324.71 L521.00,325.51 L522.00,326.30 L523.00,327.10 L524.00,327.90 L525.00,328.70 L526.00,329.50 L527.00,330.30 L528.00,331.09 L529.00,331.89 L530.00,332.68 L531.00,333.48 L532.00,334.27 L533.00,335.06 L534.00,335.85 L535.00,336.64 L536.00,337.43 L537.00,338.22 L538.00,339.00 L539.00,339.79 L540.00,340.58 L541.00,341.37 L542.00,342.15 L543.00,342.94 L544.00,343.73 L545.00,344.52 L546.00,345.31 L547.00,346.10 L548.00,346.89 L549.00,347.69 L550.00,348.48 L551.00,349.29 L552.00,350.10 L553.00,350.92 L554.00,351.75 L555.00,352.58 L556.00,353.43 L557.00,354.29 L558.00,355.17 L559.00,356.05 L560.00,356.95 L561.00,357.86 L562.00,358.79 L563.00,359.73 L564.00,360.67 L565.00,361.64 L566.00,362.61 L567.00,363.59 L568.00,364.59 L569.00,365.59 L570.00,366.61 L571.00,367.64 L572.00,368.67 L573.00,369.72 L574.00,370.78 L575.00,371.85 L576.00,372.93 L577.00,374.02 L578.00,375.12 L579.00,376.23 L580.00,377.35 L581.00,378.48 L582.00,379.61 L583.00,380.75 L584.00,381.90 L585.00,383.06 L586.00,384.22 L587.00,385.40 L588.00,386.58 L589.00,387.77 L590.00,388.97 L591.00,390.18 L592.00,391.41 L593.00,392.65 L594.00,393.90 L595.00,395.18 L596.00,396.48 L597.00,397.79 L598.00,399.14 L599.00,400.50 L600.00,401.90 L601.00,403.32 L602.00,404.77 L603.00,406.24 L604.00,407.75 L605.00,409.28 L606.00,410.84 L607.00,412.42 L608.00,414.03 L609.00,415.67 L610.00,417.33 L611.00,419.02 L612.00,420.74 L613.00,422.47 L614.00,424.23 L615.00,426.01 L616.00,427.80 L617.00,429.60 L618.00,431.40 L619.00,433.21 L620.00,435.00 L621.00,436.78 L622.00,438.55 L623.00,440.30 L624.00,442.03 L625.00,443.75 L626.00,445.45 L627.00,447.14 L628.00,448.83 L629.00,450.50 L630.00,452.18 L631.00,453.85 L632.00,455.52 L633.00,457.19 L634.00,458.85 L635.00,460.52 L636.00,462.18 L637.00,463.85 L638.00,465.51 L639.00,467.17 L640.00,468.82 L641.00,470.48 L642.00,472.13 L643.00,473.78 L644.00,475.43 L645.00,477.08 L646.00,478.72 L647.00,480.36 L648.00,481.99 L649.00,483.62 L650.00,485.24 L651.00,486.86 L652.00,488.47 L653.00,490.07 L654.00,491.67 L655.00,493.25 L656.00,494.83 L657.00,496.40 L658.00,497.96 L659.00,499.52 L660.00,501.07 L661.00,502.61 L662.00,504.14 L663.00,505.67 L664.00,507.19 L665.00,508.71 L666.00,510.23 L667.00,511.75 L668.00,513.26 L669.00,514.77 L670.00,516.28 L671.00,517.78 L672.00,519.29 L673.00,520.79 L674.00,522.30 L675.00,523.80 L676.00,525.30 L677.00,526.80 L678.00,528.31 L679.00,529.81 L680.00,531.32 L681.00,532.83 L682.00,534.35 L683.00,535.87 L684.00,537.40 L685.00,538.94 L686.00,540.49 L687.00,542.04 L688.00,543.60 L689.00,545.17 L690.00,546.75 L691.00,548.33 L692.00,549.91 L693.00,551.51 L694.00,553.10 L695.00,554.69 L696.00,556.29 L697.00,557.89 L698.00,559.48 L699.00,561.08 L700.00,562.67 L701.00,564.26 L702.00,565.85 L703.00,567.43 L704.00,569.01 L705.00,570.59 L706.00,572.17 L707.00,573.75 L708.00,575.33 L709.00,576.90 L710.00,578.48 L711.00,580.06 L712.00,581.64 L713.00,583.23 L714.00,584.81 L715.00,586.40 L716.00,587.99 L717.00,589.59 L718.00,591.18 L719.00,592.77 L720.00,594.36 L721.00,595.93 L722.00,597.50 L723.00,599.06 L724.00,600.60 L725.00,602.12 L726.00,603.61 L727.00,605.09 L728.00,606.53 L729.00,607.95 L730.00,609.32 L731.00,610.66 L732.00,611.94 L733.00,613.17 L734.00,614.35 L735.00,615.45 L736.00,616.48 L737.00,617.44 L738.00,618.32 L739.00,619.12 L740.00,619.84 L741.00,620.47 L742.00,621.03 L743.00,621.50 L744.00,621.89 L745.00,622.20 L746.00,622.44 L747.00,622.59 L748.00,622.67 L749.00,622.68 L750.00,622.61 L751.00,622.48 L752.00,622.29 L753.00,622.03 L754.00,621.72 L755.00,621.35 L756.00,620.94 L757.00,620.48 L758.00,619.99 L759.00,619.46 L760.00,618.90 L761.00,618.31 L762.00,617.69 L763.00,617.06 L764.00,616.41 L765.00,615.73 L766.00,615.05 L767.00,614.34 L768.00,613.63 L769.00,612.90 L770.00,612.16 L771.00,611.41 L772.00,610.65 L773.00,609.88 L774.00,609.10 L775.00,608.32 L776.00,607.52 L777.00,606.73 L778.00,605.93 L779.00,605.12 L780.00,604.31 L781.00,603.50 L782.00,602.69 L783.00,601.88 L784.00,601.07 L785.00,600.25 L786.00,599.45 L787.00,598.64 L788.00,597.84 L789.00,597.05 L790.00,596.26 L791.00,595.48 L792.00,594.71 L793.00,593.95 L794.00,593.20 L795.00,592.46 L796.00,591.73 L797.00,591.01 L798.00,590.30 L799.00,589.59 L800.00,588.89 L801.00,588.20 L802.00,587.51 L803.00,586.83 L804.00,586.15 L805.00,585.47 L806.00,584.80 L807.00,584.14 L808.00,583.48 L809.00,582.83 L810.00,582.19 L811.00,581.57 L812.00,580.95 L813.00,580.35 L814.00,579.77 L815.00,579.20 L816.00,578.64 L817.00,578.11 L818.00,577.59 L819.00,577.10 L820.00,576.63 L821.00,576.18 L822.00,575.77 L823.00,575.38 L824.00,575.02 L825.00,574.68 L826.00,574.38 L827.00,574.11 L828.00,573.86 L829.00,573.64 L830.00,573.44 L831.00,573.27 L832.00,573.12 L833.00,573.00 L834.00,572.90 L835.00,572.81 L836.00,572.75 L837.00,572.72 L838.00,572.69 L839.00,572.69 L840.00,572.70 L841.00,572.73 L842.00,572.77 L843.00,572.81 L844.00,572.87 L845.00,572.94 L846.00,573.01 L847.00,573.09 L848.00,573.17 L849.00,573.26 L850.00,573.35 L851.00,573.45 L852.00,573.56 L853.00,573.67 L854.00,573.78 L855.00,573.90 L856.00,574.02" fill="none" stroke="#8e0025" stroke-width="4.10" stroke-linecap="butt" stroke-linejoin="round"/><path d="M106.00,126.00 L107.00,126.16 L108.00,126.33 L109.00,126.49 L110.00,126.66 L111.00,126.83 L112.00,127.01 L113.00,127.19 L114.00,127.37 L115.00,127.55 L116.00,127.74 L117.00,127.92 L118.00,128.12 L119.00,128.31 L120.00,128.51 L121.00,128.70 L122.00,128.90 L123.00,129.11 L124.00,129.31 L125.00,129.52 L126.00,129.73 L127.00,129.95 L128.00,130.17 L129.00,130.39 L130.00,130.63 L131.00,130.86 L132.00,131.11 L133.00,131.37 L134.00,131.63 L135.00,131.90 L136.00,132.18 L137.00,132.47 L138.00,132.77 L139.00,133.08 L140.00,133.40 L141.00,133.73 L142.00,134.07 L143.00,134.42 L144.00,134.79 L145.00,135.16 L146.00,135.56 L147.00,135.96 L148.00,136.38 L149.00,136.82 L150.00,137.27 L151.00,137.75 L152.00,138.24 L153.00,138.76 L154.00,139.30 L155.00,139.87 L156.00,140.45 L157.00,141.06 L158.00,141.69 L159.00,142.34 L160.00,143.01 L161.00,143.70 L162.00,144.41 L163.00,145.15 L164.00,145.90 L165.00,146.68 L166.00,147.49 L167.00,148.33 L168.00,149.20 L169.00,150.10 L170.00,151.04 L171.00,152.01 L172.00,153.00 L173.00,154.02 L174.00,155.06 L175.00,156.13 L176.00,157.21 L177.00,158.31 L178.00,159.43 L179.00,160.56 L180.00,161.72 L181.00,162.90 L182.00,164.11 L183.00,165.35 L184.00,166.61 L185.00,167.90 L186.00,169.22 L187.00,170.55 L188.00,171.89 L189.00,173.23 L190.00,174.58 L191.00,175.93 L192.00,177.26 L193.00,178.59 L194.00,179.90 L195.00,181.21 L196.00,182.51 L197.00,183.80 L198.00,185.10 L199.00,186.39 L200.00,187.68 L201.00,188.97 L202.00,190.24 L203.00,191.50 L204.00,192.74 L205.00,193.95 L206.00,195.14 L207.00,196.30 L208.00,197.43 L209.00,198.52 L210.00,199.58 L211.00,200.61 L212.00,201.61 L213.00,202.60 L214.00,203.56 L215.00,204.50 L216.00,205.42 L217.00,206.31 L218.00,207.19 L219.00,208.04 L220.00,208.86 L221.00,209.65 L222.00,210.41 L223.00,211.15 L224.00,211.85 L225.00,212.53 L226.00,213.18 L227.00,213.81 L228.00,214.42 L229.00,215.01 L230.00,215.58 L231.00,216.14 L232.00,216.67 L233.00,217.19 L234.00,217.69 L235.00,218.17 L236.00,218.63 L237.00,219.07 L238.00,219.50 L239.00,219.90 L240.00,220.29 L241.00,220.66 L242.00,221.02 L243.00,221.37 L244.00,221.70 L245.00,222.02 L246.00,222.33 L247.00,222.63 L248.00,222.92 L249.00,223.20 L250.00,223.47 L251.00,223.72 L252.00,223.97 L253.00,224.20 L254.00,224.43 L255.00,224.64 L256.00,224.85 L257.00,225.05 L258.00,225.24 L259.00,225.42 L260.00,225.60 L261.00,225.77 L262.00,225.93 L263.00,226.09 L264.00,226.25 L265.00,226.39 L266.00,226.53 L267.00,226.67 L268.00,226.79 L269.00,226.92 L270.00,227.03 L271.00,227.14 L272.00,227.25 L273.00,227.35 L274.00,227.45 L275.00,227.54 L276.00,227.63 L277.00,227.72 L278.00,227.81 L279.00,227.89 L280.00,227.97 L281.00,228.05 L282.00,228.12 L283.00,228.20 L284.00,228.28 L285.00,228.35 L286.00,228.43 L287.00,228.51 L288.00,228.58 L289.00,228.66 L290.00,228.74 L291.00,228.81 L292.00,228.89 L293.00,228.96 L294.00,229.02 L295.00,229.08 L296.00,229.13 L297.00,229.18 L298.00,229.22 L299.00,229.26 L300.00,229.28 L301.00,229.31 L302.00,229.33 L303.00,229.34 L304.00,229.36 L305.00,229.37 L306.00,229.39 L307.00,229.40 L308.00,229.41 L309.00,229.43 L310.00,229.44 L311.00,229.45 L312.00,229.46 L313.00,229.48 L314.00,229.49 L315.00,229.50 L316.00,229.51 L317.00,229.52 L318.00,229.53 L319.00,229.54 L320.00,229.55 L321.00,229.56 L322.00,229.57 L323.00,229.58 L324.00,229.59 L325.00,229.60 L326.00,229.61 L327.00,229.62 L328.00,229.63 L329.00,229.63 L330.00,229.64 L331.00,229.65 L332.00,229.66 L333.00,229.66 L334.00,229.67 L335.00,229.68 L336.00,229.69 L337.00,229.69 L338.00,229.70 L339.00,229.71 L340.00,229.71 L341.00,229.72 L342.00,229.72 L343.00,229.73 L344.00,229.74 L345.00,229.74 L346.00,229.75 L347.00,229.75 L348.00,229.76 L349.00,229.76 L350.00,229.77 L351.00,229.77 L352.00,229.78 L353.00,229.78 L354.00,229.79 L355.00,229.79 L356.00,229.80 L357.00,229.80 L358.00,229.81 L359.00,229.81 L360.00,229.81 L361.00,229.82 L362.00,229.82 L363.00,229.83 L364.00,229.83 L365.00,229.84 L366.00,229.84 L367.00,229.84 L368.00,229.85 L369.00,229.85 L370.00,229.86 L371.00,229.86 L372.00,229.86 L373.00,229.87 L374.00,229.87 L375.00,229.88 L376.00,229.88 L377.00,229.88 L378.00,229.89 L379.00,229.89 L380.00,229.90 L381.00,229.90 L382.00,229.91 L383.00,229.91 L384.00,229.92 L385.00,229.92 L386.00,229.92 L387.00,229.93 L388.00,229.93 L389.00,229.94 L390.00,229.94 L391.00,229.95 L392.00,229.95 L393.00,229.96 L394.00,229.97 L395.00,229.97 L396.00,229.98 L397.00,229.98 L398.00,229.99 L399.00,229.99 L400.00,230.00 L401.00,230.01 L402.00,230.01 L403.00,230.02 L404.00,230.02 L405.00,230.03 L406.00,230.03 L407.00,230.04 L408.00,230.05 L409.00,230.05 L410.00,230.06 L411.00,230.06 L412.00,230.07 L413.00,230.07 L414.00,230.08 L415.00,230.08 L416.00,230.08 L417.00,230.09 L418.00,230.09 L419.00,230.10 L420.00,230.10 L421.00,230.11 L422.00,230.11 L423.00,230.12 L424.00,230.12 L425.00,230.12 L426.00,230.13 L427.00,230.13 L428.00,230.14 L429.00,230.14 L430.00,230.15 L431.00,230.15 L432.00,230.15 L433.00,230.16 L434.00,230.16 L435.00,230.17 L436.00,230.17 L437.00,230.18 L438.00,230.18 L439.00,230.19 L440.00,230.19 L441.00,230.20 L442.00,230.20 L443.00,230.21 L444.00,230.21 L445.00,230.22 L446.00,230.22 L447.00,230.23 L448.00,230.23 L449.00,230.24 L450.00,230.24 L451.00,230.25 L452.00,230.26 L453.00,230.26 L454.00,230.27 L455.00,230.28 L456.00,230.28 L457.00,230.29 L458.00,230.30 L459.00,230.31 L460.00,230.31 L461.00,230.32 L462.00,230.33 L463.00,230.34 L464.00,230.35 L465.00,230.35 L466.00,230.36 L467.00,230.37 L468.00,230.38 L469.00,230.39 L470.00,230.40 L471.00,230.41 L472.00,230.42 L473.00,230.43 L474.00,230.45 L475.00,230.46 L476.00,230.47 L477.00,230.48 L478.00,230.50 L479.00,230.51 L480.00,230.53 L481.00,230.55 L482.00,230.57 L483.00,230.58 L484.00,230.60 L485.00,230.63 L486.00,230.65 L487.00,230.67 L488.00,230.70 L489.00,230.72 L490.00,230.75 L491.00,230.78 L492.00,230.81 L493.00,230.84 L494.00,230.87 L495.00,230.91 L496.00,230.94 L497.00,230.98 L498.00,231.03 L499.00,231.08 L500.00,231.14 L501.00,231.20 L502.00,231.28 L503.00,231.38 L504.00,231.48 L505.00,231.60 L506.00,231.73 L507.00,231.87 L508.00,232.02 L509.00,232.17 L510.00,232.33 L511.00,232.50 L512.00,232.68 L513.00,232.86 L514.00,233.05 L515.00,233.26 L516.00,233.47 L517.00,233.69 L518.00,233.92 L519.00,234.16 L520.00,234.42 L521.00,234.68 L522.00,234.96 L523.00,235.25 L524.00,235.55 L525.00,235.86 L526.00,236.20 L527.00,236.55 L528.00,236.91 L529.00,237.30 L530.00,237.70 L531.00,238.13 L532.00,238.56 L533.00,239.02 L534.00,239.49 L535.00,239.98 L536.00,240.49 L537.00,241.01 L538.00,241.54 L539.00,242.10 L540.00,242.67 L541.00,243.27 L542.00,243.90 L543.00,244.56 L544.00,245.25 L545.00,245.98 L546.00,246.74 L547.00,247.52 L548.00,248.34 L549.00,249.17 L550.00,250.02 L551.00,250.88 L552.00,251.75 L553.00,252.63 L554.00,253.51 L555.00,254.39 L556.00,255.27 L557.00,256.16 L558.00,257.05 L559.00,257.95 L560.00,258.86 L561.00,259.79 L562.00,260.72 L563.00,261.68 L564.00,262.65 L565.00,263.64 L566.00,264.65 L567.00,265.68 L568.00,266.74 L569.00,267.83 L570.00,268.95 L571.00,270.10 L572.00,271.27 L573.00,272.48 L574.00,273.70 L575.00,274.95 L576.00,276.23 L577.00,277.51 L578.00,278.82 L579.00,280.13 L580.00,281.46 L581.00,282.80 L582.00,284.15 L583.00,285.52 L584.00,286.91 L585.00,288.32 L586.00,289.75 L587.00,291.19 L588.00,292.65 L589.00,294.11 L590.00,295.56 L591.00,297.01 L592.00,298.44 L593.00,299.85 L594.00,301.22 L595.00,302.57 L596.00,303.88 L597.00,305.15 L598.00,306.39 L599.00,307.61 L600.00,308.80 L601.00,309.97 L602.00,311.14 L603.00,312.29 L604.00,313.45 L605.00,314.62 L606.00,315.80 L607.00,316.99 L608.00,318.19 L609.00,319.40 L610.00,320.61 L611.00,321.80 L612.00,322.95 L613.00,324.07 L614.00,325.15 L615.00,326.18 L616.00,327.16 L617.00,328.09 L618.00,328.98 L619.00,329.83 L620.00,330.64 L621.00,331.42 L622.00,332.15 L623.00,332.84 L624.00,333.47 L625.00,334.02 L626.00,334.50 L627.00,334.89 L628.00,335.20 L629.00,335.45 L630.00,335.64 L631.00,335.80 L632.00,335.94 L633.00,336.05 L634.00,336.15 L635.00,336.24 L636.00,336.33 L637.00,336.41 L638.00,336.48 L639.00,336.55 L640.00,336.62 L641.00,336.68 L642.00,336.74 L643.00,336.80 L644.00,336.86 L645.00,336.91 L646.00,336.97 L647.00,337.02 L648.00,337.06 L649.00,337.11 L650.00,337.16 L651.00,337.21 L652.00,337.25 L653.00,337.30 L654.00,337.35 L655.00,337.41 L656.00,337.46 L657.00,337.51 L658.00,337.56 L659.00,337.61 L660.00,337.67 L661.00,337.72 L662.00,337.78 L663.00,337.84 L664.00,337.91 L665.00,337.99 L666.00,338.09 L667.00,338.20 L668.00,338.33 L669.00,338.49 L670.00,338.68 L671.00,338.90 L672.00,339.14 L673.00,339.39 L674.00,339.66 L675.00,339.92 L676.00,340.17 L677.00,340.43 L678.00,340.68 L679.00,340.94 L680.00,341.19 L681.00,341.46 L682.00,341.72 L683.00,342.00 L684.00,342.28 L685.00,342.58 L686.00,342.89 L687.00,343.21 L688.00,343.55 L689.00,343.90 L690.00,344.27 L691.00,344.65 L692.00,345.06 L693.00,345.48 L694.00,345.93 L695.00,346.40 L696.00,346.90 L697.00,347.43 L698.00,348.00 L699.00,348.61 L700.00,349.28 L701.00,350.00 L702.00,350.79 L703.00,351.65 L704.00,352.60 L705.00,353.66 L706.00,354.83 L707.00,356.12 L708.00,357.55 L709.00,359.11 L710.00,360.81 L711.00,362.65 L712.00,364.62 L713.00,366.70 L714.00,368.87 L715.00,371.11 L716.00,373.41 L717.00,375.78 L718.00,378.20 L719.00,380.69 L720.00,383.25 L721.00,385.87 L722.00,388.55 L723.00,391.26 L724.00,393.99 L725.00,396.74 L726.00,399.49 L727.00,402.25 L728.00,405.03 L729.00,407.84 L730.00,410.67 L731.00,413.53 L732.00,416.40 L733.00,419.26 L734.00,422.07 L735.00,424.81 L736.00,427.42 L737.00,429.87 L738.00,432.12 L739.00,434.14 L740.00,435.92 L741.00,437.46 L742.00,438.76 L743.00,439.86 L744.00,440.76 L745.00,441.50 L746.00,442.09 L747.00,442.57 L748.00,442.97 L749.00,443.30 L750.00,443.59 L751.00,443.85 L752.00,444.09 L753.00,444.30 L754.00,444.50 L755.00,444.68 L756.00,444.85 L757.00,445.01 L758.00,445.15 L759.00,445.29 L760.00,445.42 L761.00,445.54 L762.00,445.67 L763.00,445.80 L764.00,445.95 L765.00,446.11 L766.00,446.29 L767.00,446.50 L768.00,446.74 L769.00,447.02 L770.00,447.34 L771.00,447.70 L772.00,448.10 L773.00,448.52 L774.00,448.96 L775.00,449.42 L776.00,449.88 L777.00,450.36 L778.00,450.85 L779.00,451.35 L780.00,451.87 L781.00,452.41 L782.00,452.98 L783.00,453.57 L784.00,454.19 L785.00,454.85 L786.00,455.55 L787.00,456.29 L788.00,457.08 L789.00,457.92 L790.00,458.80 L791.00,459.73 L792.00,460.70 L793.00,461.70 L794.00,462.74 L795.00,463.80 L796.00,464.89 L797.00,466.01 L798.00,467.16 L799.00,468.34 L800.00,469.56 L801.00,470.81 L802.00,472.09 L803.00,473.40 L804.00,474.74 L805.00,476.10 L806.00,477.49 L807.00,478.91 L808.00,480.35 L809.00,481.81 L810.00,483.31 L811.00,484.83 L812.00,486.37 L813.00,487.92 L814.00,489.47 L815.00,490.99 L816.00,492.49 L817.00,493.96 L818.00,495.39 L819.00,496.80 L820.00,498.18 L821.00,499.55 L822.00,500.94 L823.00,502.35 L824.00,503.79 L825.00,505.28 L826.00,506.82 L827.00,508.40 L828.00,510.02 L829.00,511.67 L830.00,513.35 L831.00,515.03 L832.00,516.72 L833.00,518.41 L834.00,520.08 L835.00,521.75 L836.00,523.40 L837.00,525.04 L838.00,526.67 L839.00,528.29 L840.00,529.91 L841.00,531.53 L842.00,533.15 L843.00,534.77 L844.00,536.39 L845.00,538.01 L846.00,539.64 L847.00,541.27 L848.00,542.90 L849.00,544.53 L850.00,546.16 L851.00,547.80 L852.00,549.44 L853.00,551.08 L854.00,552.72 L855.00,554.36 L856.00,556.00" fill="none" stroke="#8e0025" stroke-width="4.10" stroke-linecap="butt" stroke-linejoin="round"/>
<rect x="105.5" y="34.5" width="751" height="599" fill="none" stroke="#0a3a66" stroke-width="3"/>
<text transform="translate(47.61,645.02) scale(1.0000,1)" font-family="Liberation Sans" font-weight="bold" font-size="25.18" fill="#0a3a66">–80</text><text transform="translate(47.61,595.75) scale(1.0000,1)" font-family="Liberation Sans" font-weight="bold" font-size="25.18" fill="#0a3a66">–60</text><text transform="translate(47.61,549.59) scale(1.0000,1)" font-family="Liberation Sans" font-weight="bold" font-size="25.18" fill="#0a3a66">–40</text><text transform="translate(47.61,503.42) scale(1.0000,1)" font-family="Liberation Sans" font-weight="bold" font-size="25.18" fill="#0a3a66">–20</text><text transform="translate(75.62,457.26) scale(1.0000,1)" font-family="Liberation Sans" font-weight="bold" font-size="25.18" fill="#0a3a66">0</text><text transform="translate(61.61,411.10) scale(1.0000,1)" font-family="Liberation Sans" font-weight="bold" font-size="25.18" fill="#0a3a66">20</text><text transform="translate(61.61,364.93) scale(1.0000,1)" font-family="Liberation Sans" font-weight="bold" font-size="25.18" fill="#0a3a66">40</text><text transform="translate(61.61,318.77) scale(1.0000,1)" font-family="Liberation Sans" font-weight="bold" font-size="25.18" fill="#0a3a66">60</text><text transform="translate(61.61,272.60) scale(1.0000,1)" font-family="Liberation Sans" font-weight="bold" font-size="25.18" fill="#0a3a66">80</text><text transform="translate(47.61,226.44) scale(1.0000,1)" font-family="Liberation Sans" font-weight="bold" font-size="25.18" fill="#0a3a66">100</text><text transform="translate(47.61,180.28) scale(1.0000,1)" font-family="Liberation Sans" font-weight="bold" font-size="25.18" fill="#0a3a66">120</text><text transform="translate(47.61,134.11) scale(1.0000,1)" font-family="Liberation Sans" font-weight="bold" font-size="25.18" fill="#0a3a66">140</text><text transform="translate(47.61,87.95) scale(1.0000,1)" font-family="Liberation Sans" font-weight="bold" font-size="25.18" fill="#0a3a66">160</text><text transform="translate(47.61,41.78) scale(1.0000,1)" font-family="Liberation Sans" font-weight="bold" font-size="25.18" fill="#0a3a66">180</text><text transform="translate(866.61,645.02) scale(1.0000,1)" font-family="Liberation Sans" font-weight="bold" font-size="25.18" fill="#0a3a66">–440</text><text transform="translate(866.61,595.75) scale(1.0000,1)" font-family="Liberation Sans" font-weight="bold" font-size="25.18" fill="#0a3a66">–400</text><text transform="translate(866.61,549.59) scale(1.0000,1)" font-family="Liberation Sans" font-weight="bold" font-size="25.18" fill="#0a3a66">–360</text><text transform="translate(866.61,503.42) scale(1.0000,1)" font-family="Liberation Sans" font-weight="bold" font-size="25.18" fill="#0a3a66">–320</text><text transform="translate(866.61,457.26) scale(1.0000,1)" font-family="Liberation Sans" font-weight="bold" font-size="25.18" fill="#0a3a66">–280</text><text transform="translate(866.61,411.10) scale(1.0000,1)" font-family="Liberation Sans" font-weight="bold" font-size="25.18" fill="#0a3a66">–240</text><text transform="translate(866.61,364.93) scale(1.0000,1)" font-family="Liberation Sans" font-weight="bold" font-size="25.18" fill="#0a3a66">–200</text><text transform="translate(866.61,318.77) scale(1.0000,1)" font-family="Liberation Sans" font-weight="bold" font-size="25.18" fill="#0a3a66">–160</text><text transform="translate(866.61,272.60) scale(1.0000,1)" font-family="Liberation Sans" font-weight="bold" font-size="25.18" fill="#0a3a66">–120</text><text transform="translate(866.61,226.44) scale(1.0000,1)" font-family="Liberation Sans" font-weight="bold" font-size="25.18" fill="#0a3a66">–80</text><text transform="translate(866.61,180.28) scale(1.0000,1)" font-family="Liberation Sans" font-weight="bold" font-size="25.18" fill="#0a3a66">–40</text><text transform="translate(866.21,134.11) scale(1.0000,1)" font-family="Liberation Sans" font-weight="bold" font-size="25.18" fill="#0a3a66">0</text><text transform="translate(867.00,87.95) scale(1.0000,1)" font-family="Liberation Sans" font-weight="bold" font-size="25.18" fill="#0a3a66">40</text><text transform="translate(866.21,41.78) scale(1.0000,1)" font-family="Liberation Sans" font-weight="bold" font-size="25.18" fill="#0a3a66">80</text><text transform="translate(97.43,666.60) scale(0.9329,1)" font-family="Liberation Sans" font-weight="bold" font-size="25.18" fill="#0a3a66">1 µ</text><text transform="translate(137.81,666.60) scale(0.9487,1)" font-family="Liberation Sans" font-weight="bold" font-size="25.18" fill="#0a3a66">10 µ</text><text transform="translate(190.10,666.60) scale(0.9506,1)" font-family="Liberation Sans" font-weight="bold" font-size="25.18" fill="#0a3a66">100 µ</text><text transform="translate(256.53,666.60) scale(0.9361,1)" font-family="Liberation Sans" font-weight="bold" font-size="25.18" fill="#0a3a66">1 m</text><text transform="translate(304.44,666.60) scale(0.9894,1)" font-family="Liberation Sans" font-weight="bold" font-size="25.18" fill="#0a3a66">10 m</text><text transform="translate(367.27,666.60) scale(0.9695,1)" font-family="Liberation Sans" font-weight="bold" font-size="25.18" fill="#0a3a66">100 m</text><text transform="translate(441.63,666.60) scale(0.8727,1)" font-family="Liberation Sans" font-weight="bold" font-size="25.18" fill="#0a3a66">1</text><text transform="translate(491.65,666.60) scale(1.0507,1)" font-family="Liberation Sans" font-weight="bold" font-size="25.18" fill="#0a3a66">10</text><text transform="translate(544.00,666.60) scale(1.0149,1)" font-family="Liberation Sans" font-weight="bold" font-size="25.18" fill="#0a3a66">100</text><text transform="translate(604.26,666.60) scale(0.9170,1)" font-family="Liberation Sans" font-weight="bold" font-size="25.18" fill="#0a3a66">1 k</text><text transform="translate(652.52,666.60) scale(0.9435,1)" font-family="Liberation Sans" font-weight="bold" font-size="25.18" fill="#0a3a66">10 k</text><text transform="translate(704.58,666.60) scale(0.9644,1)" font-family="Liberation Sans" font-weight="bold" font-size="25.18" fill="#0a3a66">100 k</text><text transform="translate(773.48,666.60) scale(0.9669,1)" font-family="Liberation Sans" font-weight="bold" font-size="25.18" fill="#0a3a66">1 M</text><text transform="translate(821.42,666.60) scale(1.0019,1)" font-family="Liberation Sans" font-weight="bold" font-size="25.18" fill="#0a3a66">10 M</text><text transform="translate(391.05,719.70) scale(0.9996,1)" font-family="Liberation Sans" font-weight="bold" font-size="24.85" fill="#0a3a66">Frequency (Hz)</text><text transform="translate(437.52,539.50) scale(1.0281,1)" font-family="Liberation Sans" font-weight="bold" font-size="24.18" fill="#0a3a66">Crossover for</text><text transform="translate(393.52,570.70) scale(1.0234,1)" font-family="Liberation Sans" font-weight="bold" font-size="24.75" fill="#0a3a66">1 MΩ, 100 kΩ, 100 Ω</text><text transform="translate(779.30,720.00) scale(0.9890,1)" font-family="Liberation Sans" font-weight="normal" font-size="19.46" fill="#c6e6bd" stroke="#c6e6bd" stroke-width="0.55">www.cntronics.com</text><text transform="translate(418.70,21.10) scale(0.9153,1)" font-family="Liberation Sans" font-weight="bold" font-size="26.02" fill="#0a3a66" stroke="#0a3a66" stroke-width="0.50">V</text><text transform="translate(433.02,21.10) scale(1.0000,1)" font-family="Liberation Sans" font-weight="bold" font-size="26.02" fill="#0a3a66" stroke="#0a3a66" stroke-width="0.50">(</text><text transform="translate(441.30,21.10) scale(0.9096,1)" font-family="Liberation Sans" font-weight="bold" font-size="26.02" fill="#0a3a66" stroke="#0a3a66" stroke-width="0.50">V</text><text transform="translate(457.75,26.60) scale(1.0107,1)" font-family="Liberation Sans" font-weight="bold" font-size="15.99" fill="#0a3a66" stroke="#0a3a66" stroke-width="0.50">S</text><text transform="translate(466.84,21.10) scale(1.0000,1)" font-family="Liberation Sans" font-weight="bold" font-size="26.02" fill="#0a3a66" stroke="#0a3a66" stroke-width="0.50">)</text><text transform="translate(487.00,21.10) scale(0.9153,1)" font-family="Liberation Sans" font-weight="bold" font-size="26.02" fill="#0a3a66" stroke="#0a3a66" stroke-width="0.50">V</text><text transform="translate(500.62,21.10) scale(1.0000,1)" font-family="Liberation Sans" font-weight="bold" font-size="26.02" fill="#0a3a66" stroke="#0a3a66" stroke-width="0.50">(</text><text transform="translate(508.90,21.10) scale(0.9096,1)" font-family="Liberation Sans" font-weight="bold" font-size="26.02" fill="#0a3a66" stroke="#0a3a66" stroke-width="0.50">V</text><text transform="translate(523.85,26.60) scale(0.9880,1)" font-family="Liberation Sans" font-weight="bold" font-size="15.41" fill="#0a3a66" stroke="#0a3a66" stroke-width="0.50">E</text><text transform="translate(532.99,21.10) scale(1.0000,1)" font-family="Liberation Sans" font-weight="bold" font-size="26.02" fill="#0a3a66" stroke="#0a3a66" stroke-width="0.50">)</text><text transform="translate(23.00,418.60) rotate(-90) translate(-1.56,0) scale(0.9569,1)" font-family="Liberation Sans" font-weight="bold" font-size="26.02" fill="#0a3a66">Magnitude (dB)</text><text transform="translate(953.00,381.00) rotate(-90) translate(-1.53,0) scale(0.9434,1)" font-family="Liberation Sans" font-weight="bold" font-size="25.87" fill="#0a3a66">Phase (°)</text><polygon points="475.2,21.1 480.3,21.1 487.4,2.8 482.3,2.8" fill="#0a3a66"/><line x1="536.90" y1="512.10" x2="599.25" y2="463.75" stroke="#0f416e" stroke-width="3.20"/><polygon points="621.00,447.90 595.10,458.00 603.40,469.50" fill="#0f416e"/><line x1="561.90" y1="513.10" x2="622.80" y2="465.90" stroke="#0f416e" stroke-width="3.20"/><polygon points="644.60,449.90 618.40,460.30 627.20,471.50" fill="#0f416e"/><line x1="610.70" y1="515.70" x2="643.20" y2="470.75" stroke="#0f416e" stroke-width="3.20"/><polygon points="659.80,449.20 637.40,465.80 649.00,475.70" fill="#0f416e"/>
</svg></body></html>
